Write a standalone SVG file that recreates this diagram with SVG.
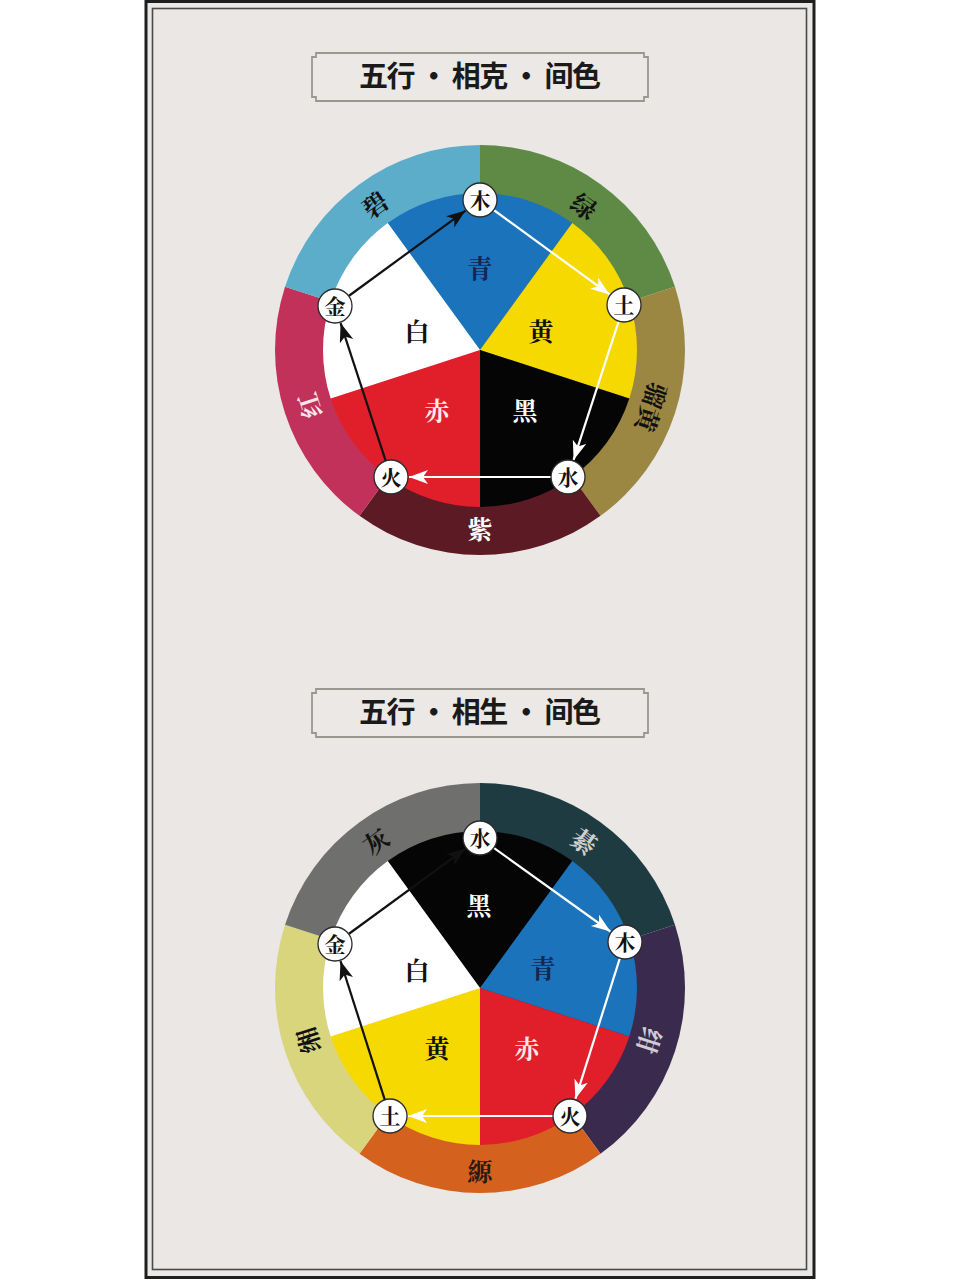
<svg xmlns="http://www.w3.org/2000/svg" xmlns:xlink="http://www.w3.org/1999/xlink" width="960" height="1280" viewBox="0 0 960 1280">
<defs>
<style>
.title{font-family:"Noto Sans CJK SC","Noto Sans",sans-serif;font-weight:700;font-size:29px;fill:#1a1a1a;}
.tbox{fill:#ebe8e5;stroke:#9a9793;stroke-width:1.8;}
.lab{font-family:"Noto Serif CJK SC","Noto Sans CJK SC",serif;font-weight:700;font-size:25px;text-anchor:middle;}
.nd circle{fill:#ffffff;stroke:#2a2a2a;stroke-width:1.3;}
.nd text{font-family:"Noto Serif CJK SC","Noto Sans CJK SC",serif;font-weight:700;font-size:21px;fill:#111;text-anchor:middle;}
.cb{stroke:#111;stroke-width:2.2;fill:none;marker-end:url(#ahB);}
.cw{stroke:#ffffff;stroke-width:2.2;fill:none;marker-end:url(#ahW);}
</style>
<path id="oseg" d="M0,0 L0,-205 A205,205 0 0 1 194.97,-63.35 Z"/>
<path id="iseg" d="M0,0 L-92.28,-127.02 A157,157 0 0 1 92.28,-127.02 Z"/>
<marker id="ahB" markerUnits="userSpaceOnUse" markerWidth="22" markerHeight="16" refX="19" refY="7" orient="auto">
<path d="M0,0 L19,7 L0,14 L5,7 Z" fill="#111"/>
</marker>
<marker id="ahW" markerUnits="userSpaceOnUse" markerWidth="22" markerHeight="16" refX="19" refY="7" orient="auto">
<path d="M0,0 L19,7 L0,14 L5,7 Z" fill="#ffffff"/>
</marker>
</defs>

<rect x="0" y="0" width="960" height="1280" fill="#ffffff"/>
<g id="frame">
<rect x="146" y="1.5" width="668" height="1276" fill="#eae7e4" stroke="#1e1e1e" stroke-width="3"/>
<rect x="152.5" y="8.5" width="654" height="1261" fill="none" stroke="#4a4a4a" stroke-width="1.6"/>
</g>

<g id="title1">
<path class="tbox" d="M316,53 H644 V57 H648 V97 H644 V101 H316 V97 H312 V57 H316 Z"/>
<text class="title" x="480" y="87" text-anchor="middle" textLength="242" lengthAdjust="spacing">五行 · 相克 · 间色</text>
</g>

<g id="wheel1" transform="translate(480,350)">
<use href="#oseg" fill="#5f8a46"/>
<use href="#oseg" fill="#9b8642" transform="rotate(72)"/>
<use href="#oseg" fill="#5c1b24" transform="rotate(144)"/>
<use href="#oseg" fill="#c2315a" transform="rotate(216)"/>
<use href="#oseg" fill="#5badc9" transform="rotate(288)"/>
<use href="#iseg" fill="#1b73bc"/>
<use href="#iseg" fill="#f6d900" transform="rotate(72)"/>
<use href="#iseg" fill="#050505" transform="rotate(144)"/>
<use href="#iseg" fill="#e11f2b" transform="rotate(216)"/>
<use href="#iseg" fill="#ffffff" transform="rotate(288)"/>
</g>
<g id="wheel1-labels">
<text class="lab" x="480" y="278" fill="#17254f">青</text>
<text class="lab" x="541" y="341" fill="#111">黄</text>
<text class="lab" x="525" y="420" fill="#ffffff">黑</text>
<text class="lab" x="437" y="420" fill="#fbeaea">赤</text>
<text class="lab" x="417" y="341" fill="#111">白</text>
<text class="lab" fill="#111" transform="translate(376,206) rotate(-36)" y="8">碧</text>
<text class="lab" fill="#111" transform="translate(583,208) rotate(36)" y="8">绿</text>
<text class="lab" fill="#111" transform="translate(650,407) rotate(108)" y="8">骝黄</text>
<text class="lab" fill="#ffffff" x="480" y="539">紫</text>
<text class="lab" fill="#f6e6ea" transform="translate(311,405) rotate(-108)" y="8">红</text>
</g>

<g id="connectors1">
<line class="cb" x1="348.7" y1="296" x2="465.5" y2="210.6"/>
<line class="cw" x1="493.7" y1="210" x2="609.5" y2="294.4"/>
<line class="cw" x1="618.7" y1="321.2" x2="573.6" y2="459.9"/>
<line class="cw" x1="551" y1="477" x2="409" y2="477"/>
<line class="cb" x1="385.7" y1="460.8" x2="340.6" y2="323.1"/>
</g>

<g id="n1-mu" class="nd"><circle cx="480" cy="200" r="17"/><text x="480" y="207.5">木</text></g>
<g id="n1-tu" class="nd"><circle cx="624" cy="305" r="17"/><text x="624" y="312.5">土</text></g>
<g id="n1-shui" class="nd"><circle cx="568" cy="477" r="17"/><text x="568" y="484.5">水</text></g>
<g id="n1-huo" class="nd"><circle cx="391" cy="477" r="17"/><text x="391" y="484.5">火</text></g>
<g id="n1-jin" class="nd"><circle cx="335" cy="306" r="17"/><text x="335" y="313.5">金</text></g>

<g id="title2">
<path class="tbox" d="M316,689 H644 V693 H648 V733 H644 V737 H316 V733 H312 V693 H316 Z"/>
<text class="title" x="480" y="723" text-anchor="middle" textLength="242" lengthAdjust="spacing">五行 · 相生 · 间色</text>
</g>

<g id="wheel2" transform="translate(480,988)">
<use href="#oseg" fill="#1e3b42"/>
<use href="#oseg" fill="#3a2a4d" transform="rotate(72)"/>
<use href="#oseg" fill="#d4621e" transform="rotate(144)"/>
<use href="#oseg" fill="#d8d57c" transform="rotate(216)"/>
<use href="#oseg" fill="#6f6f6d" transform="rotate(288)"/>
<use href="#iseg" fill="#050505"/>
<use href="#iseg" fill="#1b73bc" transform="rotate(72)"/>
<use href="#iseg" fill="#e11f2b" transform="rotate(144)"/>
<use href="#iseg" fill="#f6d900" transform="rotate(216)"/>
<use href="#iseg" fill="#ffffff" transform="rotate(288)"/>
</g>
<g id="wheel2-labels">
<text class="lab" x="479" y="915" fill="#ffffff">黑</text>
<text class="lab" x="543" y="978" fill="#17254f">青</text>
<text class="lab" x="527" y="1058" fill="#fbe6e6">赤</text>
<text class="lab" x="437" y="1058" fill="#111">黄</text>
<text class="lab" x="417" y="980" fill="#111">白</text>
<text class="lab" fill="#111" transform="translate(377,843) rotate(-36)" y="8">灰</text>
<text class="lab" fill="#d0d0d0" transform="translate(583,843) rotate(36)" y="8">綦</text>
<text class="lab" fill="#d0ccd6" transform="translate(648,1040) rotate(108)" y="8">绀</text>
<text class="lab" fill="#2a1a10" x="480" y="1181">縓</text>
<text class="lab" fill="#111" transform="translate(310,1040) rotate(-108)" y="8">缃</text>
</g>

<g id="connectors2">
<line class="cw" x1="493.8" y1="847.9" x2="610.4" y2="931.5"/>
<line class="cw" x1="619.9" y1="958.2" x2="575.4" y2="1098.8"/>
<line class="cw" x1="553" y1="1116" x2="408" y2="1116"/>
<line class="cb" x1="384.8" y1="1099.8" x2="340.5" y2="961.1"/>
<line class="cb" x1="348.7" y1="934" x2="465.5" y2="848.6"/>
</g>

<g id="n2-shui" class="nd"><circle cx="480" cy="838" r="17"/><text x="480" y="845.5">水</text></g>
<g id="n2-mu" class="nd"><circle cx="625" cy="942" r="17"/><text x="625" y="949.5">木</text></g>
<g id="n2-huo" class="nd"><circle cx="570" cy="1116" r="17"/><text x="570" y="1123.5">火</text></g>
<g id="n2-tu" class="nd"><circle cx="390" cy="1116" r="17"/><text x="390" y="1123.5">土</text></g>
<g id="n2-jin" class="nd"><circle cx="335" cy="944" r="17"/><text x="335" y="951.5">金</text></g>
</svg>
